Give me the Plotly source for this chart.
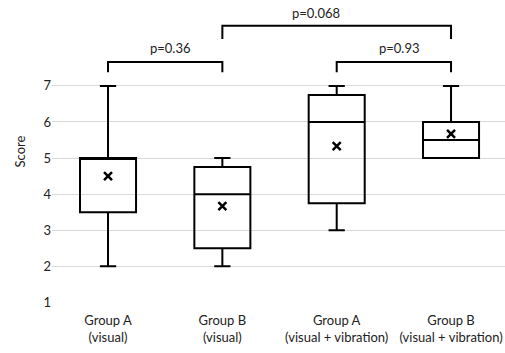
import plotly.graph_objects as go

categories = ["Group A<br>(visual)", "Group B<br>(visual)",
              "Group A<br>(visual + vibration)", "Group B<br>(visual + vibration)"]
lower = [2, 2, 3, 5]
q1 = [3.5, 2.5, 3.75, 5]
median = [5, 4, 6, 5.5]
q3 = [5, 4.75, 6.75, 6]
upper = [7, 5, 7, 7]
means = [4.5, 3.67, 5.33, 5.67]

comparisons = [(0, 1, "p=0.36"), (2, 3, "p=0.93"), (1, 3, "p=0.068")]
bracket_levels = [7.66, 7.66, 8.67]
leg_bottoms = [7.38, 7.38, 8.30]
text_levels = [8.05, 8.05, 9.03]

xs = list(range(len(categories)))
FONT = "Lato"

fig = go.Figure()
fig.add_trace(go.Box(
    x=xs, q1=q1, median=median, q3=q3, lowerfence=lower, upperfence=upper,
    width=0.49, whiskerwidth=0.29,
    line=dict(color="black", width=2), fillcolor="rgba(255,255,255,0)",
    boxpoints=False, showlegend=False, hoverinfo="skip"))
fig.add_trace(go.Scatter(
    x=xs, y=means, mode="markers", showlegend=False, hoverinfo="skip",
    marker=dict(symbol="x-thin", size=8, line=dict(color="black", width=2.5))))

for (a, b, label), yl, yb, yt in zip(comparisons, bracket_levels, leg_bottoms, text_levels):
    fig.add_shape(type="path",
                  path=f"M {a},{yb} L {a},{yl} L {b},{yl} L {b},{yb}",
                  xref="x", yref="y", line=dict(color="black", width=2))
    off = -0.18 if label == "p=0.068" else 0.05
    fig.add_annotation(x=(a + b) / 2 + off, y=yt, text=label, showarrow=False,
                       xref="x", yref="y", font=dict(family=FONT, size=13, color="#222"))

fig.update_layout(
    width=505, height=353,
    margin=dict(l=52, r=0, t=0, b=50),
    plot_bgcolor="white", paper_bgcolor="white",
    font=dict(family=FONT, size=13, color="#222"),
    xaxis=dict(tickvals=xs, ticktext=categories, range=[-0.49, 3.472],
               showgrid=False, zeroline=False, showline=False, ticks="",
               ticklabelstandoff=8),
    yaxis=dict(tickvals=[1, 2, 3, 4, 5, 6, 7], range=[0.985, 9.38],
               showgrid=True, gridcolor="#d9d9d9", gridwidth=1,
               zeroline=False, showline=False, ticks="",
               title=dict(text="Score", font=dict(family=FONT, size=13, color="#222"), standoff=14)),
)
fig.write_html("out.html", config={"displayModeBar": False},
               post_script="document.body.style.margin='0';document.body.style.padding='0';")
